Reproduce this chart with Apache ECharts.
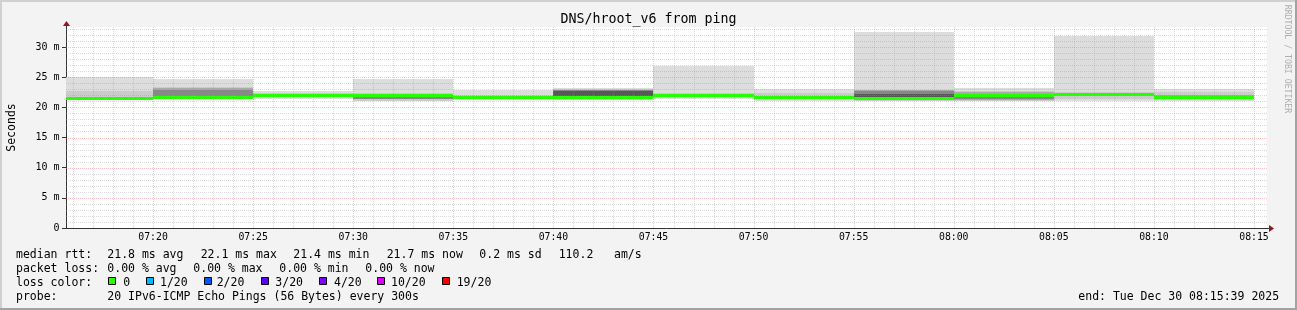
<!DOCTYPE html>
<html><head><meta charset="utf-8">
<script src="https://cdn.jsdelivr.net/npm/echarts@6/dist/echarts.min.js"></script>
<style>html,body{margin:0;padding:0;background:#f3f3f3;}#c{width:1297px;height:310px;}</style>
</head><body><div id="c"></div>
<script>
// ---------- data ----------
const graphStart = '07:15:39';
const graphEnd = '08:15:39';
const segmentEnds = ['07:20','07:25','07:30','07:35','07:40','07:45','07:50','07:55','08:00','08:05','08:10','08:15'];
const medianRtt = [21.5, 21.65, 22.0, 22.0, 21.7, 21.55, 21.95, 21.7, 21.4, 21.9, 22.1, 21.7];
// smoke bands (ms): outer = min/max of pings, inner bands = narrower percentile ranges
const smoke1Lo = [21.15, 21.3, 21.4, 21.0, 21.27, 21.15, 21.45, 20.98, 21.0, 21.0, 21.1, 21.1];
const smoke1Hi = [25.1, 24.65, 22.65, 24.65, 22.8, 23.25, 26.9, 23.05, 32.55, 23.2, 31.9, 23.1];
const smoke2Lo = [21.3, 21.35, 21.7, 21.1, 21.5, 21.2, 21.6, 21.3, 21.1, 21.05, 21.4, 21.25];
const smoke2Hi = [22.65, 23.45, 22.4, 22.3, 22.0, 23.1, 22.35, 22.4, 22.9, 22.65, 22.5, 22.6];
const smoke3Lo = [21.45, 21.4, null, 21.3, null, 21.3, 21.75, null, 21.2, 21.25, 21.85, 21.5];
const smoke3Hi = [21.6, 23.2, null, 22.1, null, 22.95, 22.05, null, 22.8, 22.6, 22.2, 22.1];
const smoke4Lo = [null, 21.6, null, 21.4, null, 21.45, null, null, 21.4, 21.3, null, null];
const smoke4Hi = [null, 22.8, null, 21.95, null, 22.85, null, null, 22.7, 21.85, null, null];
const smoke5Lo = [null, null, null, null, null, 21.7, null, null, 21.5, null, null, null];
const smoke5Hi = [null, null, null, null, null, 22.75, null, null, 22.15, null, null, null];
const xTickLabels = ['07:20','07:25','07:30','07:35','07:40','07:45','07:50','07:55','08:00','08:05','08:10','08:15'];
const yTickValues = [0, 5, 10, 15, 20, 25, 30];
const yMax = 33.315;
const lossLabels = ['0','1/20','2/20','3/20','4/20','10/20','19/20'];
const lossColors = ['#26ff00','#00b8ff','#0059ff','#5e00ff','#7e00ff','#dd00ff','#ff0000'];

// ---------- helpers ----------
function toMin(s){ const p = s.split(':').map(Number); return p[0]*60 + p[1] + (p[2]||0)/60; }
function fmt(v){ const h = Math.floor(v/60 + 1e-9); const m = Math.round(v - h*60); return String(h).padStart(2,'0') + ':' + String(m).padStart(2,'0'); }
const xMin = toMin(graphStart), xMax = toMin(graphEnd);
const FONT = 'DejaVu Sans Mono';

function segRange(i){ const e = toMin(segmentEnds[i]); return [Math.max(xMin, e - 5), e]; }

function bandSeries(lo, hi, color){
  const data = [];
  segmentEnds.forEach((e, i) => { if (lo[i] == null) return; const r = segRange(i); data.push([r[0], r[1], lo[i], hi[i]]); });
  return { type:'custom', silent:true, animation:false, data, encode:{x:[0,1], y:[2,3]},
    renderItem(params, api){
      const p1 = api.coord([api.value(0), api.value(3)]);
      const p2 = api.coord([api.value(1), api.value(2)]);
      const x1 = Math.round(p1[0]), x2 = Math.round(p2[0]);
      const y1 = Math.round(p1[1]), y2 = Math.round(p2[1]);
      return { type:'rect', shape:{x:x1, y:y1, width:x2-x1, height:Math.max(1, y2-y1)}, style:{fill:color} };
    } };
}

function vLineSeries(values, color){
  return { type:'custom', silent:true, animation:false, data: values.map(v => [v, 0]), encode:{x:0, y:1},
    renderItem(params, api){
      const cs = params.coordSys;
      const x = Math.round(api.coord([api.value(0), 0])[0]) + 0.5;
      return { type:'line', shape:{x1:x, y1:cs.y, x2:x, y2:cs.y + cs.height}, style:{stroke:color, lineWidth:1, lineDash:[1,1]} };
    } };
}
function hLineSeries(values, color){
  return { type:'custom', silent:true, animation:false, data: values.map(v => [xMin, v]), encode:{x:0, y:1},
    renderItem(params, api){
      const cs = params.coordSys;
      const y = Math.round(api.coord([xMin, api.value(1)])[1]) + 0.5;
      return { type:'line', shape:{x1:cs.x, y1:y, x2:cs.x + cs.width, y2:y}, style:{stroke:color, lineWidth:1, lineDash:[1,1]} };
    } };
}

const vMinor = [], vMajor = xTickLabels.map(toMin);
for (let m = Math.ceil(xMin); m <= xMax; m++) if (m % 5 !== 0) vMinor.push(m);
const hMinor = [], hMajor = yTickValues.filter(v => v > 0);
for (let v = 1; v <= yMax; v++) if (v % 5 !== 0) hMinor.push(v);

const medianSeries = { type:'custom', silent:true, animation:false,
  data: medianRtt.map((m, i) => { const r = segRange(i); return [r[0], r[1], m]; }),
  encode:{x:[0,1], y:2},
  renderItem(params, api){
    const p1 = api.coord([api.value(0), api.value(2)]);
    const p2 = api.coord([api.value(1), api.value(2)]);
    const x1 = Math.round(p1[0]), x2 = Math.round(p2[0]);
    const y = Math.round(p1[1] - 1.5);
    return { type:'rect', shape:{x:x1, y:y, width:x2-x1, height:3}, style:{fill:lossColors[0]} };
  } };

// ---------- legend text ----------
const txt = (text, x, y, extra) => Object.assign({ type:'text', z:100, x:x, y:y,
  style:{ text, font:'11.5px "' + FONT + '"', fill:'#000', align:'left', verticalAlign:'middle', textAlign:'left', textVerticalAlign:'middle' } }, extra || {});

const graphics = [
  { type:'rect', z:100, shape:{x:0, y:0, width:1297, height:2}, style:{fill:'#d0d0d0'} },
  { type:'rect', z:100, shape:{x:0, y:0, width:2, height:310}, style:{fill:'#d0d0d0'} },
  { type:'rect', z:100, shape:{x:0, y:308, width:1297, height:2}, style:{fill:'#a2a2a2'} },
  { type:'rect', z:100, shape:{x:1295, y:0, width:2, height:310}, style:{fill:'#a2a2a2'} },
  { type:'text', z:100, x:648.5, y:19.5, style:{ text:'DNS/hroot_v6 from ping', font:'13.3px "' + FONT + '"', fill:'#000', align:'center', verticalAlign:'middle', textAlign:'center', textVerticalAlign:'middle' } },
  { type:'text', z:100, x:1287.5, y:59, rotation:-Math.PI/2, style:{ text:'RRDTOOL / TOBI OETIKER', font:'8.2px "' + FONT + '"', fill:'#aeaeae', align:'center', verticalAlign:'middle', textAlign:'center', textVerticalAlign:'middle' } },
  txt('median rtt:', 16, 255),
  txt('21.8 ms avg', 107.3, 255),
  txt('22.1 ms max', 200.7, 255),
  txt('21.4 ms min', 293.3, 255),
  txt('21.7 ms now', 386.7, 255),
  txt('0.2 ms sd', 479.3, 255),
  txt('110.2', 558.7, 255),
  txt('am/s', 614, 255),
  txt('packet loss:', 16, 269),
  txt('0.00 % avg', 107.3, 269),
  txt('0.00 % max', 193.3, 269),
  txt('0.00 % min', 279.3, 269),
  txt('0.00 % now', 365.3, 269),
  txt('loss color:', 16, 282.7),
  txt('probe:', 16, 296.7),
  txt('20 IPv6-ICMP Echo Pings (56 Bytes) every 300s', 107.3, 296.7),
  txt('end: Tue Dec 30 08:15:39 2025', 1078.3, 296.7)
];
const boxX = [108.5, 146.5, 204.5, 261.5, 319.5, 377.5, 442.5];
const labX = [123.3, 160, 216.7, 275.3, 334, 391, 456.7];
lossLabels.forEach((l, i) => {
  graphics.push({ type:'rect', z:100, shape:{x:boxX[i], y:277.5, width:7, height:7}, style:{fill:lossColors[i], stroke:'#000', lineWidth:1} });
  graphics.push(txt(l, labX[i], 282.7));
});

const chart = echarts.init(document.getElementById('c'), null, {renderer:'canvas'});
chart.setOption({
  animation:false,
  backgroundColor:'#f3f3f3',
  grid:{ left:66, right:30, top:27, bottom:82, show:true, backgroundColor:'#ffffff', borderWidth:0, containLabel:false, outerBoundsMode:'none' },
  xAxis:{ type:'value', min:xMin, max:xMax,
    axisLine:{ show:true, onZero:false, lineStyle:{ color:'#333', width:1 } },
    axisTick:{ show:false }, splitLine:{ show:false },
    axisLabel:{ customValues:xTickLabels.map(toMin), formatter:v => fmt(v), fontFamily:FONT, fontSize:9.8, color:'#000', margin:4.5 } },
  yAxis:{ type:'value', min:0, max:yMax, name:'Seconds', nameLocation:'middle', nameRotate:90, nameGap:48,
    nameTextStyle:{ fontFamily:FONT, fontSize:11.5, color:'#000' },
    axisLine:{ show:true, lineStyle:{ color:'#333', width:1 } },
    axisTick:{ show:true, customValues:yTickValues, length:4, lineStyle:{ color:'#333' } },
    splitLine:{ show:false },
    axisLabel:{ customValues:yTickValues, formatter:v => v === 0 ? '0' : v + ' m', fontFamily:FONT, fontSize:10, color:'#000', margin:6.5 } },
  graphic: graphics,
  series:[
    bandSeries(smoke1Lo, smoke1Hi, '#dddddd'),
    bandSeries(smoke2Lo, smoke2Hi, '#cbcbcb'),
    bandSeries(smoke3Lo, smoke3Hi, '#aaaaaa'),
    bandSeries(smoke4Lo, smoke4Hi, '#888888'),
    bandSeries(smoke5Lo, smoke5Hi, '#585858'),
    vLineSeries(vMinor, 'rgba(150,150,150,0.36)'),
    hLineSeries(hMinor, 'rgba(150,150,150,0.36)'),
    vLineSeries(vMajor, 'rgba(240,100,100,0.42)'),
    hLineSeries(hMajor, 'rgba(240,100,100,0.42)'),
    medianSeries
  ]
});
// axis arrows (dark red), positioned through the axis scales
const pxEnd = chart.convertToPixel({ xAxisIndex:0, yAxisIndex:0 }, [xMax, 0]);
const pyTop = chart.convertToPixel({ xAxisIndex:0, yAxisIndex:0 }, [xMin, yMax]);
const ax = Math.round(pxEnd[0]), ay = Math.round(pxEnd[1]) + 0.5;
const bx = Math.round(pyTop[0]) + 0.5, by = Math.round(pyTop[1]);
chart.setOption({ graphic: graphics.concat([
  { type:'line', z:100, shape:{x1:ax, y1:ay, x2:ax+3, y2:ay}, style:{stroke:'#333', lineWidth:1} },
  { type:'polygon', z:100, shape:{points:[[ax+2, ay-3.5],[ax+7, ay],[ax+2, ay+3.5]]}, style:{fill:'#8b1a1a'} },
  { type:'line', z:100, shape:{x1:bx, y1:by, x2:bx, y2:by-3}, style:{stroke:'#333', lineWidth:1} },
  { type:'polygon', z:100, shape:{points:[[bx-3.5, by-1],[bx, by-6],[bx+3.5, by-1]]}, style:{fill:'#8b1a1a'} }
]) });
</script></body></html>
